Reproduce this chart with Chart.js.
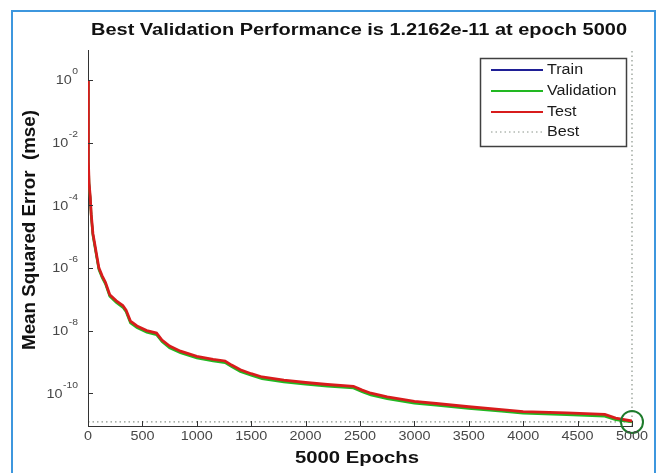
<!DOCTYPE html>
<html>
<head>
<meta charset="utf-8">
<script src="https://cdn.jsdelivr.net/npm/chart.js@4.4.1/dist/chart.umd.min.js"></script>
<style>
  html, body { margin: 0; padding: 0; background: #fff; }
  #wrap { position: relative; width: 660px; height: 473px; overflow: hidden; }
  #frame { position: absolute; left: 11px; top: 10px; width: 641px; height: 500px; border: 2px solid #3d97de; pointer-events: none; }
  #perfChart { position: absolute; left: 0; top: 0; }
</style>
</head>
<body>
<div id="wrap">
  <canvas id="perfChart" width="660" height="473"></canvas>
  <div id="frame"></div>
</div>
<script>
// Training record
const epochs = [0, 2, 5, 10, 20, 30, 45, 60, 80, 100, 130, 160, 200, 260, 320, 350, 390, 450, 540, 630,
  680, 750, 850, 1000, 1150, 1260, 1320, 1400, 1500, 1600, 1800, 2000, 2200, 2440, 2520, 2600, 2750,
  3000, 3200, 3500, 3800, 4000, 4400, 4750, 4850, 5000];
const trainMse = [0.95, 1.5e-2, 2.3e-3, 4.7e-4, 1.85e-4, 4.6e-5, 1.17e-5, 5.9e-6, 2.3e-6, 9.3e-7,
  5.2e-7, 3.3e-7, 1.3e-7, 8.3e-8, 5.9e-8, 4.2e-8, 1.86e-8, 1.3e-8, 9.3e-9, 7.7e-9,
  4.6e-9, 3.0e-9, 2.05e-9, 1.4e-9, 1.12e-9, 1.0e-9, 7.3e-10, 5.2e-10, 3.9e-10, 3.1e-10,
  2.4e-10, 2.05e-10, 1.77e-10, 1.54e-10, 1.17e-10, 9.3e-11, 7.1e-11, 5.1e-11, 4.4e-11, 3.4e-11,
  2.8e-11, 2.4e-11, 2.2e-11, 1.95e-11, 1.5e-11, 1.25e-11];
const validationMse = [0.9, 1.4e-2, 2.2e-3, 4.4e-4, 1.75e-4, 4.4e-5, 1.1e-5, 5.5e-6, 2.2e-6, 8.8e-7,
  4.9e-7, 3.1e-7, 1.23e-7, 7.8e-8, 5.5e-8, 4.0e-8, 1.76e-8, 1.23e-8, 8.8e-9, 7.3e-9,
  4.4e-9, 2.8e-9, 1.94e-9, 1.32e-9, 1.06e-9, 9.4e-10, 7.0e-10, 4.9e-10, 3.7e-10, 2.9e-10,
  2.3e-10, 1.94e-10, 1.67e-10, 1.46e-10, 1.11e-10, 8.8e-11, 6.7e-11, 4.8e-11, 4.1e-11, 3.25e-11,
  2.65e-11, 2.3e-11, 2.07e-11, 1.85e-11, 1.41e-11, 1.2162e-11];
const testMse = [1.0, 1.6e-2, 2.5e-3, 5.0e-4, 2.0e-4, 5.0e-5, 1.26e-5, 6.3e-6, 2.5e-6, 1.0e-6,
  5.6e-7, 3.5e-7, 1.4e-7, 8.9e-8, 6.3e-8, 4.5e-8, 2.0e-8, 1.4e-8, 1.0e-8, 8.3e-9,
  5.0e-9, 3.2e-9, 2.2e-9, 1.5e-9, 1.2e-9, 1.07e-9, 7.9e-10, 5.6e-10, 4.2e-10, 3.3e-10,
  2.6e-10, 2.2e-10, 1.9e-10, 1.66e-10, 1.26e-10, 1.0e-10, 7.6e-11, 5.5e-11, 4.7e-11, 3.7e-11,
  3.0e-11, 2.6e-11, 2.35e-11, 2.1e-11, 1.6e-11, 1.3e-11];
const bestEpoch = 5000;
const bestMse = 1.2162e-11;
const xTicks = [0, 500, 1000, 1500, 2000, 2500, 3000, 3500, 4000, 4500, 5000];
const yTickExponents = [0, -2, -4, -6, -8, -10];
const yLimits = [9e-12, 9];

const FONT = '"Liberation Sans", Arial, Helvetica, sans-serif';
const colors = { train: '#1f1f96', validation: '#22b822', test: '#d81c1c', best: '#8a948a', circle: '#1e7b2c' };

function toPoints(xsArr, ysArr) {
  return xsArr.map((x, i) => ({ x: x, y: ysArr[i] }));
}

// text drawn with a horizontal stretch, the source picture is wider than tall
function stretchText(ctx, text, x, y, font, sx, sy, align, rot) {
  ctx.save();
  ctx.translate(x, y);
  if (rot) ctx.rotate(rot);
  ctx.scale(sx, sy);
  ctx.font = font;
  ctx.textAlign = align;
  ctx.textBaseline = 'middle';
  ctx.fillText(text, 0, 0);
  ctx.restore();
}

function fitScale(ctx, text, font, target) {
  ctx.save();
  ctx.font = font;
  const w = ctx.measureText(text).width;
  ctx.restore();
  return target / w;
}

const matlabDecor = {
  id: 'matlabDecor',
  afterDatasetsDraw(chart) {
    const ctx = chart.ctx, xs = chart.scales.x, ys = chart.scales.y, a = chart.chartArea;
    ctx.save();

    // inward tick marks
    ctx.strokeStyle = '#333';
    ctx.lineWidth = 1;
    ctx.beginPath();
    xTicks.forEach(v => {
      const px = Math.round(xs.getPixelForValue(v)) + 0.5;
      ctx.moveTo(px, a.bottom); ctx.lineTo(px, a.bottom - 5);
    });
    yTickExponents.forEach(e => {
      const py = Math.round(ys.getPixelForValue(Math.pow(10, e))) + 0.5;
      ctx.moveTo(a.left, py); ctx.lineTo(a.left + 5, py);
    });
    ctx.stroke();

    // tick labels
    ctx.fillStyle = '#474747';
    const tickFont = '12px ' + FONT;
    xTicks.forEach(v => {
      stretchText(ctx, String(v), xs.getPixelForValue(v), a.bottom + 11, tickFont, 1.2, 1, 'center');
    });
    const expFont = '9px ' + FONT;
    yTickExponents.forEach(e => {
      const py = ys.getPixelForValue(Math.pow(10, e));
      const right = a.left - 10;
      ctx.font = expFont;
      const ew = ctx.measureText(String(e)).width * 1.15;
      stretchText(ctx, String(e), right, py - 8, expFont, 1.15, 1, 'right');
      stretchText(ctx, '10', right - ew - 0.5, py + 1, tickFont, 1.2, 1, 'right');
    });

    // titles
    ctx.fillStyle = '#111';
    const titleText = 'Best Validation Performance is ' + bestMse.toExponential(4) + ' at epoch ' + bestEpoch;
    const titleFont = 'bold 16px ' + FONT;
    stretchText(ctx, titleText, 359, 30.5, titleFont, fitScale(ctx, titleText, titleFont, 536), 1, 'center');
    const xTitle = bestEpoch + ' Epochs';
    stretchText(ctx, xTitle, 357, 459, titleFont, fitScale(ctx, xTitle, titleFont, 124), 1, 'center');
    const yTitle = 'Mean Squared Error  (mse)';
    stretchText(ctx, yTitle, 30, 230, titleFont, fitScale(ctx, yTitle, titleFont, 240), 1.15, 'center', -Math.PI / 2);

    // legend box
    const box = { left: 480.5, top: 58.5, right: 626.5, bottom: 146.5 };
    ctx.fillStyle = '#fff';
    ctx.fillRect(box.left, box.top, box.right - box.left, box.bottom - box.top);
    ctx.strokeStyle = '#404040';
    ctx.lineWidth = 1.5;
    ctx.strokeRect(box.left, box.top, box.right - box.left, box.bottom - box.top);
    const entries = [
      { label: 'Train', color: colors.train, dash: [] },
      { label: 'Validation', color: colors.validation, dash: [] },
      { label: 'Test', color: colors.test, dash: [] },
      { label: 'Best', color: colors.best, dash: [1.5, 3] }
    ];
    const rowY = [70, 91, 112, 132];
    entries.forEach((en, i) => {
      ctx.beginPath();
      ctx.setLineDash(en.dash);
      ctx.strokeStyle = en.color;
      ctx.lineWidth = en.dash.length ? 1 : 2;
      ctx.moveTo(491, rowY[i]); ctx.lineTo(543, rowY[i]);
      ctx.stroke();
      ctx.setLineDash([]);
      ctx.fillStyle = '#1a1a1a';
      stretchText(ctx, en.label, 547, rowY[i] + 0.5, '14px ' + FONT, 1.15, 1, 'left');
    });

    ctx.restore();
  }
};

new Chart(document.getElementById('perfChart').getContext('2d'), {
  type: 'line',
  data: {
    datasets: [
      {
        label: 'Best circle',
        type: 'scatter',
        data: [{ x: bestEpoch, y: bestMse }],
        pointRadius: 11,
        pointBorderWidth: 2,
        pointBorderColor: colors.circle,
        pointBackgroundColor: 'rgba(0,0,0,0)',
        clip: false,
        order: 0
      },
      {
        label: 'Test',
        data: toPoints(epochs, testMse),
        borderColor: colors.test,
        borderWidth: 2.8,
        pointRadius: 0,
        tension: 0,
        order: 1
      },
      {
        label: 'Validation',
        data: toPoints(epochs, validationMse),
        borderColor: colors.validation,
        borderWidth: 2.5,
        pointRadius: 0,
        tension: 0,
        order: 2
      },
      {
        label: 'Train',
        data: toPoints(epochs, trainMse),
        borderColor: colors.train,
        borderWidth: 2,
        pointRadius: 0,
        tension: 0,
        order: 3
      },
      {
        label: 'Best',
        data: [{ x: xTicks[0], y: bestMse }, { x: bestEpoch, y: bestMse }],
        borderColor: colors.best,
        borderWidth: 1.2,
        borderDash: [1.5, 3],
        pointRadius: 0,
        clip: false,
        order: 4
      },
      {
        label: 'Best epoch',
        data: [{ x: bestEpoch, y: yLimits[0] }, { x: bestEpoch, y: yLimits[1] }],
        borderColor: colors.best,
        borderWidth: 1.2,
        borderDash: [1.5, 3],
        pointRadius: 0,
        clip: false,
        order: 5
      }
    ]
  },
  options: {
    responsive: false,
    animation: false,
    devicePixelRatio: 1,
    layout: { padding: { top: 50, right: 28, left: 0, bottom: 0 } },
    plugins: {
      legend: { display: false },
      title: { display: false },
      tooltip: { enabled: false }
    },
    scales: {
      x: {
        type: 'linear',
        min: xTicks[0],
        max: xTicks[xTicks.length - 1],
        grid: { display: false },
        border: { display: true, color: '#333', width: 1 },
        ticks: { display: false, stepSize: 500 },
        afterFit: s => { s.height = 47; }
      },
      y: {
        type: 'logarithmic',
        min: yLimits[0],
        max: yLimits[1],
        grid: { display: false },
        border: { display: true, color: '#333', width: 1 },
        ticks: { display: false },
        afterFit: s => { s.width = 88; }
      }
    }
  },
  plugins: [matlabDecor]
});
</script>
</body>
</html>
